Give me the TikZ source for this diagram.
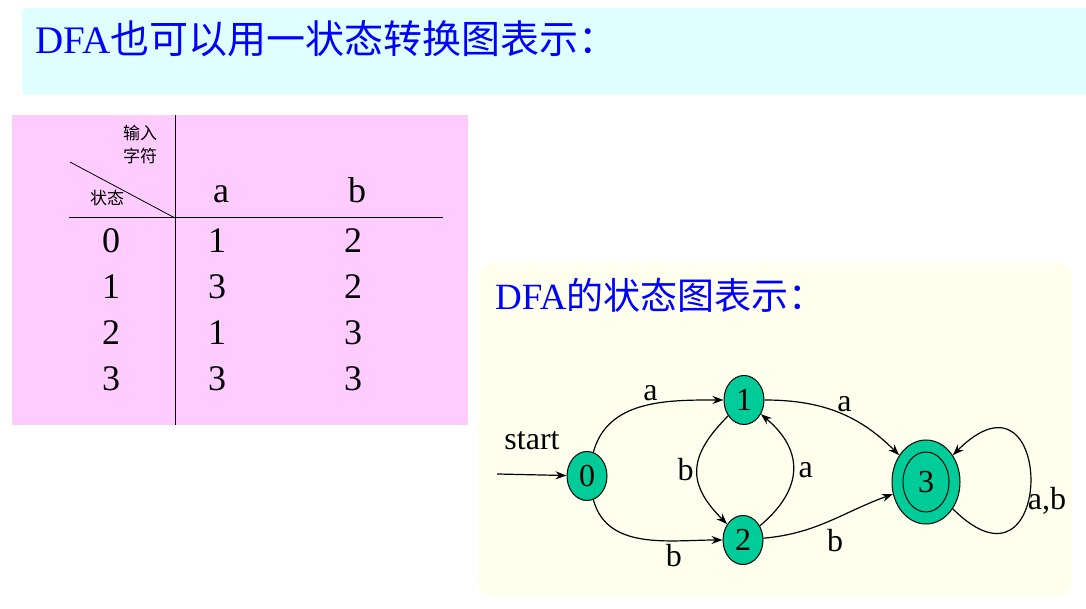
\documentclass[tikz,border=0pt]{standalone}
\usepackage{fontspec}
\setmainfont{Liberation Serif}
\newfontfamily\cjk{Noto Sans CJK SC}
\usepackage{tikz}
\usetikzlibrary{arrows.meta,positioning,shapes.geometric}
\usepackage{xcolor}
\definecolor{titlebg}{HTML}{E0FFFF}
\definecolor{tablebg}{HTML}{FFCCFF}
\definecolor{graphbg}{HTML}{FFFFEE}
\definecolor{statefill}{HTML}{00CC99}

\begin{document}
\begin{tikzpicture}[x=1pt, y=1pt,
    state/.style={ellipse, draw, fill=statefill, line width=1pt, minimum width=40pt, minimum height=49pt, inner sep=0pt, font=\fontsize{32}{32}\selectfont},
    cell/.style={anchor=base, font=\fontsize{36}{36}\selectfont},
    head/.style={font=\cjk\fontsize{17}{20}\selectfont, inner sep=0pt},
    lbl/.style={font=\fontsize{32}{32}\selectfont, inner sep=3pt},
    arr/.style={-{Stealth[length=11pt, width=8pt]}, line width=1.2pt}
]
\useasboundingbox (0,0) rectangle (1086,609);
% backgrounds
\fill[titlebg, rounded corners=4pt] (22,514) rectangle (1092,601);
\fill[tablebg] (12,184) rectangle (468,494);
\fill[graphbg, rounded corners=15pt] (478,12) rectangle (1072,347);
\node[anchor=base west, inner sep=0pt, text=blue, font=\fontsize{39}{42}\selectfont] (title) at (35,555) {DFA{\cjk 也可以用一状态转换图表示：}};

% table
\coordinate (vtop) at (175,494);
\coordinate (vbot) at (175,184);
\coordinate (hleft) at (69,391);
\coordinate (hright) at (443,391);
\coordinate (dtop) at (70,447);
\coordinate (dbot) at (175,391);
\draw[line width=1pt] (vtop) -- (vbot);
\draw[line width=1pt] (hleft) -- (hright);
\draw[line width=0.8pt] (dtop) -- (dbot);
\node[head] (inp) at (140,476) {输入};
\node[head] (chr) at (140,453) {字符};
\node[head] (stt) at (107,411) {状态};
\node[cell] (ha) at (221,406) {a};
\node[cell] (hb) at (357,406) {b};
\node[cell] (r0) at (111,356) {0};
\node[cell] (r0a) at (217,356) {1};
\node[cell] (r0b) at (353,356) {2};
\node[cell] (r1) at (111,310) {1};
\node[cell] (r1a) at (217,310) {3};
\node[cell] (r1b) at (353,310) {2};
\node[cell] (r2) at (111,264) {2};
\node[cell] (r2a) at (217,264) {1};
\node[cell] (r2b) at (353,264) {3};
\node[cell] (r3) at (111,218) {3};
\node[cell] (r3a) at (217,218) {3};
\node[cell] (r3b) at (353,218) {3};

% state diagram
\node[anchor=base west, inner sep=0pt, text=blue, font=\fontsize{37}{38}\selectfont] (sub) at (495,299) {DFA{\cjk 的状态图表示：}};
\node[state] (s0) at (587,133) {0};
\node[state] (s1) at (744,209) {1};
\node[state] (s2) at (743,69) {2};
\node[state, minimum width=68pt, minimum height=84pt] (s3) at (926,127) {};
\node[ellipse, draw, line width=1pt, minimum width=46pt, minimum height=60pt, inner sep=0pt, font=\fontsize{32}{32}\selectfont] (s3in) at (s3) {3};
\coordinate (begin) at (497,135);
\node[lbl] (startlbl) at (532,168) {start};
\draw[arr] (begin) -- (s0);
\draw[arr] (s0) to[out=75, in=180] node[lbl, pos=0.55, above] {a} (s1);
\draw[arr] (s0) to[out=-75, in=180] node[lbl, pos=0.7, below] {b} (s2);
\draw[arr] (s1) to[out=225, in=135, looseness=1.35] node[lbl, midway, left] {b} (s2);
\draw[arr] (s2) to[out=40, in=-40, looseness=1.3] node[lbl, midway, right, xshift=2pt] {a} (s1);
\draw[arr] (s1) to[out=0, in=135] node[lbl, pos=0.55, above] {a} (s3);
\draw[arr] (s2) to[out=5, in=200] node[lbl, pos=0.55, below, yshift=-7pt] {b} (s3);
\draw[arr] (s3) to[out=-45, in=45, looseness=7] node[lbl, pos=0.42, right, xshift=-4pt] {a,b} (s3);
\end{tikzpicture}
\end{document}
